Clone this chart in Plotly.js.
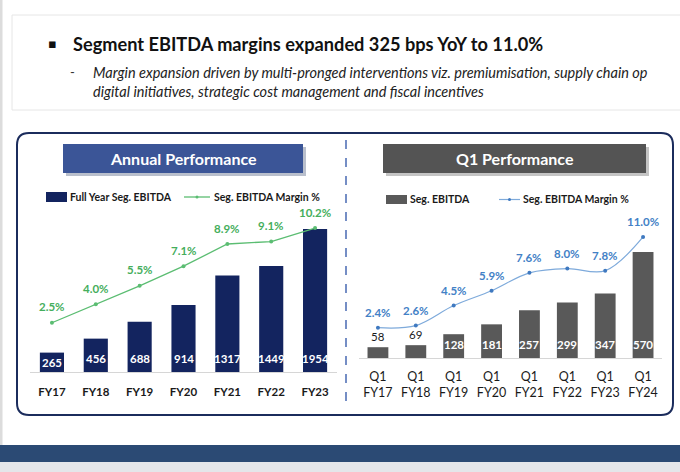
<!DOCTYPE html>
<html><head><meta charset="utf-8">
<script src="https://cdn.plot.ly/plotly-3.0.1.min.js"></script>
<style>html,body{margin:0;padding:0;background:#fff;}#chart{width:680px;height:472px;}</style>
</head><body><div id="chart"></div>
<script>
// ---- data ----
const annualYears = ['FY17','FY18','FY19','FY20','FY21','FY22','FY23'];
const annualEbitda = [265,456,688,914,1317,1449,1954];
const annualMargin = [2.5,4.0,5.5,7.1,8.9,9.1,10.2];
const q1Periods = ['Q1 FY17','Q1 FY18','Q1 FY19','Q1 FY20','Q1 FY21','Q1 FY22','Q1 FY23','Q1 FY24'];
const q1Ebitda = [58,69,128,181,257,299,347,570];
const q1Margin = [2.4,2.6,4.5,5.9,7.6,8.0,7.8,11.0];
const headline = 'Segment EBITDA margins expanded 325 bps YoY to 11.0%';
const subLine1 = 'Margin expansion driven by multi-pronged interventions viz. premiumisation, supply chain op';
const subLine2 = 'digital initiatives, strategic cost management and fiscal incentives';
const annualTitle = 'Annual Performance';
const q1Title = 'Q1 Performance';
const annualBarName = 'Full Year Seg. EBITDA';
const q1BarName = 'Seg. EBITDA';
const marginName = 'Seg. EBITDA Margin %';

// ---- geometry helpers ----
const W = 680, H = 472;
const px = x => x / W, py = y => 1 - y / H;
const FONT = 'Lato, "Open Sans", sans-serif';

const C = {
  navyBar: '#13245f', green: '#5bbd72', greenTxt: '#45ae5c',
  grayBar: '#595959', blueLine: '#7eaadb', blueMk: '#3f79c0', blueTxt: '#4381c6',
  hdrBlue: '#3b5597', hdrGray: '#545454', frame: '#1b2c5c', divider: '#4869b3'
};

const annualRange = [0, 2487];
const annualMRange = [-1.504, 13.29];
const q1Range = [0, 903.4];
const q1MRange = [-0.474, 15.45];
const annualPlotPx = 372 - 190, q1PlotPx = 358 - 190;

const traces = [
  { type: 'bar', x: annualYears, y: annualEbitda, name: annualBarName, xaxis: 'x', yaxis: 'y',
    marker: { color: C.navyBar }, hoverinfo: 'x+y', showlegend: false },
  { type: 'scatter', mode: 'lines+markers', x: annualYears, y: annualMargin, name: marginName,
    xaxis: 'x', yaxis: 'y2', line: { color: C.green, width: 1.3 },
    marker: { color: C.green, size: 4 }, showlegend: false, cliponaxis: false },
  { type: 'bar', x: q1Periods, y: q1Ebitda, name: q1BarName, xaxis: 'x2', yaxis: 'y3',
    marker: { color: C.grayBar }, showlegend: false },
  { type: 'scatter', mode: 'lines+markers', x: q1Periods, y: q1Margin, name: marginName,
    xaxis: 'x2', yaxis: 'y4', line: { color: C.blueLine, width: 1.2, shape: 'spline', smoothing: 1 },
    marker: { color: C.blueMk, size: 4 }, showlegend: false, cliponaxis: false }
];

const annotations = [];
const shapes = [];
const ann = (o) => annotations.push(Object.assign({ showarrow: false, xref: 'paper', yref: 'paper' }, o));

// data labels
annualEbitda.forEach((v, i) => {
  const hPx = v / annualRange[1] * annualPlotPx;
  ann({ x: annualYears[i], y: 0, xref: 'x', yref: 'y', yanchor: 'middle', yshift: Math.min(14, hPx / 2),
    text: String(v), font: { family: FONT, size: 11.5, color: '#ffffff', weight: 700 } });
});
annualMargin.forEach((v, i) => ann({ x: annualYears[i], y: v, xref: 'x', yref: 'y2', yanchor: 'middle', yshift: 16,
  text: v.toFixed(1) + '%', font: { family: FONT, size: 11.5, color: C.greenTxt, weight: 700 } }));
q1Ebitda.forEach((v, i) => {
  const hPx = v / q1Range[1] * q1PlotPx;
  if (hPx >= 20) {
    ann({ x: q1Periods[i], y: 0, xref: 'x2', yref: 'y3', yanchor: 'middle', yshift: 14,
      text: String(v), font: { family: FONT, size: 11.5, color: '#ffffff', weight: 700 } });
  } else {
    ann({ x: q1Periods[i], y: v, xref: 'x2', yref: 'y3', yanchor: 'bottom', yshift: 2,
      text: String(v), font: { family: FONT, size: 11.5, color: '#1a1a1a' } });
  }
});
q1Margin.forEach((v, i) => ann({ x: q1Periods[i], y: v, xref: 'x2', yref: 'y4', yanchor: 'middle', yshift: 15,
  text: v.toFixed(1) + '%', font: { family: FONT, size: 11.5, color: C.blueTxt, weight: 700 } }));

// headline block
shapes.push({ type: 'rect', xref: 'paper', yref: 'paper', x0: px(0), x1: px(2.5), y0: 0, y1: 1,
  fillcolor: '#dcdcdc', line: { width: 0 }, layer: 'below' });
shapes.push({ type: 'rect', xref: 'paper', yref: 'paper', x0: px(12), x1: px(700), y0: py(110), y1: py(15),
  fillcolor: '#ffffff', line: { color: '#e6e6e6', width: 1 }, layer: 'below' });
ann({ x: px(52), y: py(44), xanchor: 'center', yanchor: 'middle', text: '▪',
  font: { family: 'DejaVu Sans', size: 13, color: '#111' } });
ann({ x: px(71), y: py(44), xanchor: 'left', yanchor: 'middle', text: headline,
  font: { family: FONT, size: 18.2, color: '#111111', weight: 700 } });
ann({ x: px(72), y: py(72), xanchor: 'center', yanchor: 'middle', text: '-',
  font: { family: FONT, size: 13, color: '#333' } });
ann({ x: px(91), y: py(72), xanchor: 'left', yanchor: 'middle', text: subLine1,
  font: { family: FONT, size: 14.5, color: '#222222', style: 'italic' } });
ann({ x: px(91), y: py(91), xanchor: 'left', yanchor: 'middle', text: subLine2,
  font: { family: FONT, size: 14.5, color: '#222222', style: 'italic' } });

// rounded frame
(function () {
  const x0 = 17, x1 = 673, y0 = 133, y1 = 415, r = 12;
  const X = v => px(v), Y = v => py(v);
  const p = `M${X(x0 + r)},${Y(y0)} L${X(x1 - r)},${Y(y0)} Q${X(x1)},${Y(y0)} ${X(x1)},${Y(y0 + r)} ` +
    `L${X(x1)},${Y(y1 - r)} Q${X(x1)},${Y(y1)} ${X(x1 - r)},${Y(y1)} L${X(x0 + r)},${Y(y1)} ` +
    `Q${X(x0)},${Y(y1)} ${X(x0)},${Y(y1 - r)} L${X(x0)},${Y(y0 + r)} Q${X(x0)},${Y(y0)} ${X(x0 + r)},${Y(y0)} Z`;
  shapes.push({ type: 'path', xref: 'paper', yref: 'paper', path: p, line: { color: C.frame, width: 2 }, layer: 'below' });
})();
// divider
shapes.push({ type: 'line', xref: 'paper', yref: 'paper', x0: px(346), x1: px(346), y0: py(140), y1: py(402),
  line: { color: C.divider, width: 1.5, dash: 'dash' } });
// headers with shadows
shapes.push({ type: 'rect', xref: 'paper', yref: 'paper', x0: px(66), x1: px(306), y0: py(176), y1: py(147),
  fillcolor: '#b9bfcc', line: { width: 0 }, layer: 'below' });
shapes.push({ type: 'rect', xref: 'paper', yref: 'paper', x0: px(63), x1: px(303), y0: py(173), y1: py(144),
  fillcolor: C.hdrBlue, line: { width: 0 }, layer: 'below' });
shapes.push({ type: 'rect', xref: 'paper', yref: 'paper', x0: px(386), x1: px(649), y0: py(176), y1: py(147),
  fillcolor: '#c4c4c4', line: { width: 0 }, layer: 'below' });
shapes.push({ type: 'rect', xref: 'paper', yref: 'paper', x0: px(383), x1: px(646), y0: py(173), y1: py(144),
  fillcolor: C.hdrGray, line: { width: 0 }, layer: 'below' });
ann({ x: px(183), y: py(158.5), xanchor: 'center', yanchor: 'middle', text: annualTitle,
  font: { family: FONT, size: 16, color: '#ffffff', weight: 700 } });
ann({ x: px(514.5), y: py(158.5), xanchor: 'center', yanchor: 'middle', text: q1Title,
  font: { family: FONT, size: 16, color: '#ffffff', weight: 700 } });

// legends (drawn)
shapes.push({ type: 'rect', xref: 'paper', yref: 'paper', x0: px(46), x1: px(67), y0: py(202), y1: py(192),
  fillcolor: C.navyBar, line: { width: 0 } });
ann({ x: px(68), y: py(197), xanchor: 'left', yanchor: 'middle', text: annualBarName,
  font: { family: FONT, size: 10.5, color: '#1a1a1a', weight: 700 } });
shapes.push({ type: 'line', xref: 'paper', yref: 'paper', x0: px(184), x1: px(210), y0: py(197), y1: py(197),
  line: { color: C.green, width: 1.3 } });
shapes.push({ type: 'circle', xref: 'paper', yref: 'paper', x0: px(195.5), x1: px(198.5), y0: py(198.5), y1: py(195.5),
  fillcolor: C.green, line: { width: 0 } });
ann({ x: px(212), y: py(197), xanchor: 'left', yanchor: 'middle', text: marginName,
  font: { family: FONT, size: 10.5, color: '#1a1a1a', weight: 700 } });

shapes.push({ type: 'rect', xref: 'paper', yref: 'paper', x0: px(386), x1: px(407), y0: py(204), y1: py(195),
  fillcolor: C.grayBar, line: { width: 0 } });
ann({ x: px(408), y: py(199.5), xanchor: 'left', yanchor: 'middle', text: q1BarName,
  font: { family: FONT, size: 10.5, color: '#1a1a1a', weight: 700 } });
shapes.push({ type: 'line', xref: 'paper', yref: 'paper', x0: px(499), x1: px(520), y0: py(199.5), y1: py(199.5),
  line: { color: C.blueLine, width: 1.2 } });
shapes.push({ type: 'circle', xref: 'paper', yref: 'paper', x0: px(508), x1: px(511), y0: py(201), y1: py(198),
  fillcolor: C.blueMk, line: { width: 0 } });
ann({ x: px(521), y: py(199.5), xanchor: 'left', yanchor: 'middle', text: marginName,
  font: { family: FONT, size: 10.5, color: '#1a1a1a', weight: 700 } });

// footer band
shapes.push({ type: 'rect', xref: 'paper', yref: 'paper', x0: 0, x1: 1, y0: py(462), y1: py(445),
  fillcolor: '#2b4a74', line: { width: 0 }, layer: 'below' });
shapes.push({ type: 'rect', xref: 'paper', yref: 'paper', x0: 0, x1: 1, y0: 0, y1: py(462),
  fillcolor: '#e4e6ea', line: { width: 0 }, layer: 'below' });

const hidden = { showgrid: false, zeroline: false, showticklabels: false, ticks: '', showline: false, fixedrange: true };

const layout = {
  width: W, height: H, margin: { l: 0, r: 0, t: 0, b: 0 },
  paper_bgcolor: '#ffffff', plot_bgcolor: 'rgba(0,0,0,0)',
  bargap: 0.45, showlegend: false, font: { family: FONT },
  xaxis: { domain: [px(30), px(337)], anchor: 'y', type: 'category', showgrid: false, zeroline: false,
    showline: true, linecolor: '#d6d6d6', linewidth: 1, ticks: '', ticklabelstandoff: 9,
    tickfont: { family: FONT, size: 11.5, color: '#1a1a1a', weight: 700 }, fixedrange: true },
  yaxis: Object.assign({ domain: [py(372), py(190)], range: annualRange, anchor: 'x' }, hidden),
  yaxis2: Object.assign({ overlaying: 'y', range: annualMRange, anchor: 'x' }, hidden),
  xaxis2: { domain: [px(359), px(662)], anchor: 'y3', type: 'category', showgrid: false, zeroline: false,
    showline: true, linecolor: '#d6d6d6', linewidth: 1, ticks: '', ticklabelstandoff: 7,
    tickvals: q1Periods, ticktext: q1Periods.map(s => s.replace(' ', '<br>')),
    tickfont: { family: FONT, size: 12.5, color: '#1a1a1a' }, fixedrange: true },
  yaxis3: Object.assign({ domain: [py(358), py(190)], range: q1Range, anchor: 'x2' }, hidden),
  yaxis4: Object.assign({ overlaying: 'y3', range: q1MRange, anchor: 'x2' }, hidden),
  shapes: shapes, annotations: annotations
};

Plotly.newPlot('chart', traces, layout, { displayModeBar: false, staticPlot: true });
</script></body></html>
